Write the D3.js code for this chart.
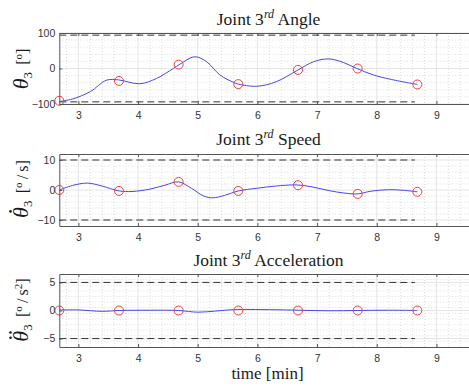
<!DOCTYPE html>
<html><head><meta charset="utf-8">
<script src="https://cdn.jsdelivr.net/npm/d3@7"></script>
<style>
html,body{margin:0;padding:0;background:#fff;overflow:hidden}
svg{display:block}
.tick text{font-family:"Liberation Sans",Arial,sans-serif;font-size:10.5px;fill:#333}
</style></head>
<body>
<svg id="chart" width="469" height="387"></svg>
<script>
// ---- data ----
const knotTimes = [2.68, 3.68, 4.68, 5.68, 6.68, 7.68, 8.68];
const angleKnots = [-91, -35, 11, -44, -4, 0, -45];
const speedKnots = [0, -0.3, 2.7, -0.3, 1.6, -1.3, -0.6];
const accKnots = [0, 0, 0, 0, 0, 0, 0];

const angleT = [2.68, 2.9, 3.2, 3.47, 3.67, 4.03, 4.31, 4.59, 4.7, 4.95, 5.15, 5.37, 5.6, 5.68, 5.99, 6.32, 6.66, 6.94, 7.19, 7.44, 7.66, 7.94, 8.22, 8.68];
const angleV = [-93, -86, -65, -33, -32, -43, -28, 0, 12, 33, 19, -18, -39, -44, -50, -37, -6, 19, 27, 17, 0.5, -18, -30, -45];

const speedT = [2.68, 2.9, 3.15, 3.4, 3.68, 3.9, 4.2, 4.45, 4.68, 4.9, 5.1, 5.25, 5.45, 5.68, 6.0, 6.3, 6.65, 6.9, 7.2, 7.45, 7.68, 7.9, 8.2, 8.45, 8.68];
const speedV = [0, 1.5, 2.3, 1.3, -0.3, -0.5, 0.3, 1.6, 2.7, 0.5, -2.0, -2.6, -1.8, -0.3, 0.6, 1.3, 1.7, 1.1, -0.2, -1.0, -1.3, -0.4, 0.1, -0.1, -0.6];

const accT = [2.68, 3.0, 3.4, 3.68, 4.2, 4.68, 5.0, 5.3, 5.6, 6.2, 6.7, 7.2, 7.68, 8.2, 8.68];
const accV = [0.1, 0.1, -0.15, 0, 0.05, 0, -0.3, -0.1, 0.15, 0.15, 0.05, -0.05, 0, 0.05, 0];

const xTicks = [3, 4, 5, 6, 7, 8, 9];
const titles = ["Angle", "Speed", "Acceleration"];

// ---- layout ----
const svg = d3.select("#chart");
const x = d3.scaleLinear().domain([2.68, 9.68]).range([59.3, 477]);
const SERIF = "'Liberation Serif', 'Times New Roman', serif";

const panels = [
  {title: titles[0], dom: [-100, 100], yt: [-100, 0, 100], minor: 20, lim: 94, top: 33, bot: 104,
   t: angleT, v: angleV, k: angleKnots, titleY: 25, label: "angle", labY: 69, dots: 0},
  {title: titles[1], dom: [-12, 12], yt: [-10, 0, 10], minor: 2, lim: 10, top: 154, bot: 226,
   t: speedT, v: speedV, k: speedKnots, titleY: 145, label: "speed", labY: 189, dots: 1},
  {title: titles[2], dom: [-6.5, 6.5], yt: [-5, 0, 5], minor: 1, lim: 5, top: 274, bot: 347,
   t: accT, v: accV, k: accKnots, titleY: 266, label: "acc", labY: 310, dots: 2}
];

const xMinor = d3.range(2.8, 9.7, 0.2).filter(d => Math.abs(d - Math.round(d)) > 0.01);

panels.forEach((p, i) => {
  const y = d3.scaleLinear().domain(p.dom).range([p.bot, p.top]);
  const g = svg.append("g");
  const x0 = x.range()[0], x1 = x.range()[1];
  g.append("rect").attr("x", x0).attr("y", p.top).attr("width", x1 - x0).attr("height", p.bot - p.top).attr("fill", "#fff");
  // minor grid
  const yMinor = d3.range(p.dom[0], p.dom[1] + 1e-9, p.minor)
    .filter(d => !p.yt.some(t => Math.abs(t - d) < 1e-6) && d > p.dom[0] + 1e-9 && d < p.dom[1] - 1e-9);
  g.selectAll(".mgx").data(xMinor).join("line")
    .attr("x1", d => x(d)).attr("x2", d => x(d)).attr("y1", p.top).attr("y2", p.bot)
    .attr("stroke", "#c8c8c8").attr("stroke-width", 0.6).attr("stroke-dasharray", "1,2");
  g.selectAll(".mgy").data(yMinor).join("line")
    .attr("x1", x0).attr("x2", x1).attr("y1", d => y(d)).attr("y2", d => y(d))
    .attr("stroke", "#c8c8c8").attr("stroke-width", 0.6).attr("stroke-dasharray", "1,2");
  // major grid
  g.selectAll(".gx").data(xTicks).join("line")
    .attr("x1", d => x(d)).attr("x2", d => x(d)).attr("y1", p.top).attr("y2", p.bot)
    .attr("stroke", "#dedede").attr("stroke-width", 0.8);
  g.selectAll(".gy").data(p.yt).join("line")
    .attr("x1", x0).attr("x2", x1).attr("y1", d => y(d)).attr("y2", d => y(d))
    .attr("stroke", "#dedede").attr("stroke-width", 0.8);
  // limits dashed
  [p.lim, -p.lim].forEach(L => {
    g.append("line").attr("x1", x(2.68)).attr("x2", x(8.64)).attr("y1", y(L)).attr("y2", y(L))
      .attr("stroke", "#333").attr("stroke-width", 1).attr("stroke-dasharray", "7,4");
  });
  // curve
  const pts = p.t.map((t, j) => [t, p.v[j]]);
  g.append("path").datum(pts)
    .attr("d", d3.line().x(d => x(d[0])).y(d => y(d[1])).curve(d3.curveCatmullRom.alpha(0.5)))
    .attr("fill", "none").attr("stroke", "#4646ee").attr("stroke-width", 1);
  // markers
  g.selectAll(".mk").data(knotTimes).join("circle")
    .attr("cx", d => x(d)).attr("cy", (d, j) => y(p.k[j])).attr("r", 4.5)
    .attr("fill", "none").attr("stroke", "#f04040").attr("stroke-width", 1);
  // axes
  const ax = g.append("g").attr("transform", `translate(0,${p.bot})`)
    .call(d3.axisBottom(x).tickValues(xTicks).tickFormat(d3.format("d")).tickSizeInner(-3).tickSizeOuter(0).tickPadding(8));
  const axTop = g.append("g").attr("transform", `translate(0,${p.top})`)
    .call(d3.axisTop(x).tickValues(xTicks).tickFormat("").tickSizeInner(-3).tickSizeOuter(0));
  const ay = g.append("g").attr("transform", `translate(${x0},0)`)
    .call(d3.axisLeft(y).tickValues(p.yt).tickFormat(d3.format("d")).tickSizeInner(-3).tickSizeOuter(0).tickPadding(4));
  [ax, axTop, ay].forEach(a => {
    a.select(".domain").attr("stroke", "#555").attr("stroke-width", 1);
    a.selectAll(".tick line").attr("stroke", "#555");
  });
  // title
  const tt = svg.append("text").attr("x", 268.5).attr("y", p.titleY).attr("text-anchor", "middle")
    .attr("font-family", SERIF).attr("font-size", 17.5).attr("fill", "#1a1a1a");
  tt.append("tspan").text("Joint 3");
  tt.append("tspan").attr("dy", -7).attr("font-size", 12).attr("font-style", "italic").text("rd");
  tt.append("tspan").attr("dy", 7).text(" " + p.title);
  // y label
  const lg = svg.append("g").attr("transform", `translate(28,${p.labY}) rotate(-90)`);
  const yl = lg.append("text").attr("text-anchor", "middle")
    .attr("font-family", SERIF).attr("font-size", 16).attr("fill", "#1a1a1a");
  yl.append("tspan").attr("font-style", "italic").attr("font-size", 22).text("\u03b8");
  yl.append("tspan").attr("dy", 4).attr("font-size", 13).text("3");
  yl.append("tspan").attr("dy", -4).text("\u2009 [");
  yl.append("tspan").attr("dy", -6).attr("font-size", 11).text("o");
  if (p.label === "angle") {
    yl.append("tspan").attr("dy", 6).text("]");
  } else if (p.label === "speed") {
    yl.append("tspan").attr("dy", 6).text("\u2009/\u2009s]");
  } else {
    yl.append("tspan").attr("dy", 6).text("\u2009/\u2009s");
    yl.append("tspan").attr("dy", -6).attr("font-size", 11).text("2");
    yl.append("tspan").attr("dy", 6).text("]");
  }
  if (p.dots > 0) {
    const ext = yl.node().getExtentOfChar(0);
    const cx = ext.x + ext.width * 0.6;
    const cy = ext.y + ext.height * 0.1;
    const offs = p.dots === 1 ? [0] : [-2.6, 2.6];
    offs.forEach(o => lg.append("circle").attr("cx", cx + o).attr("cy", cy).attr("r", 1.3).attr("fill", "#1a1a1a"));
  }
});

svg.append("text").attr("x", 267.5).attr("y", 379).attr("text-anchor", "middle")
  .attr("font-family", SERIF).attr("font-size", 17).attr("fill", "#1a1a1a").text("time [min]");
</script>
</body></html>
